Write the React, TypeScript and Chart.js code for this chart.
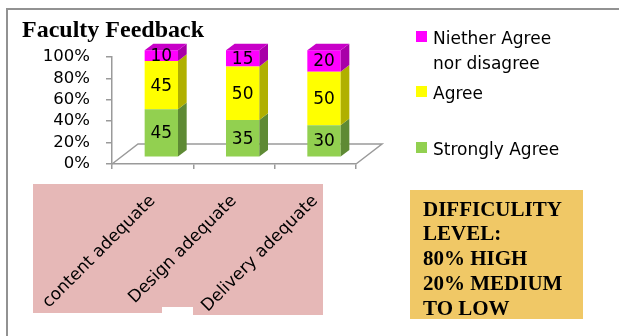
import React, { useEffect, useRef } from 'react';
import { Chart, registerables } from 'chart.js';

Chart.register(...registerables);

// ---------- data ----------
const TITLE = 'Faculty Feedback';
const CATEGORIES = ['content adequate', 'Design adequate', 'Delivery adequate'];
const STRONGLY_AGREE = [45, 35, 30];
const AGREE = [45, 50, 50];
const NEITHER = [10, 15, 20];
const SERIES_LABELS = ['Strongly Agree', 'Agree', 'Niether Agree nor disagree'];
const Y_TICKS = [0, 20, 40, 60, 80, 100];
const NOTE_LINES = ['DIFFICULITY', 'LEVEL:', '80% HIGH', '20% MEDIUM', 'TO LOW'];

// ---------- styles ----------
const FRONT = ['#92D050', '#FFFF00', '#FF00FF'];
const SIDE = ['#5E8A34', '#B0B000', '#A800A8'];
const TOPC = ['#7DB444', '#DADA00', '#C800C8'];
const AXIS_COLOR = '#9A9A9A';
const SANS = '"DejaVu Sans", sans-serif';
const SERIF = '"Liberation Serif", "Times New Roman", serif';
const DEPTH_X = 26;
const DEPTH_Y = 20;
const LEGEND_BASELINES = [44, 99, 155];
const LEGEND_X = 416;
const LEGEND_LINE = 25;

function wrap(ctx: CanvasRenderingContext2D, text: string, maxW: number): string[] {
  const words = text.split(' ');
  const lines: string[] = [];
  let cur = '';
  for (const w of words) {
    const t = cur ? cur + ' ' + w : w;
    if (cur && ctx.measureText(t).width > maxW) {
      lines.push(cur);
      cur = w;
    } else cur = t;
  }
  if (cur) lines.push(cur);
  return lines;
}

const threeD = {
  id: 'threeD',
  beforeDatasetsDraw(chart: any) {
    const { ctx, chartArea: a } = chart;
    ctx.save();
    ctx.strokeStyle = AXIS_COLOR;
    ctx.lineWidth = 1.5;
    ctx.beginPath();
    ctx.moveTo(a.left, a.bottom);
    ctx.lineTo(a.left + DEPTH_X, a.bottom - DEPTH_Y);
    ctx.lineTo(a.right + DEPTH_X, a.bottom - DEPTH_Y);
    ctx.lineTo(a.right, a.bottom);
    ctx.stroke();
    ctx.restore();
    ctx.save();
    ctx.translate(DEPTH_X / 3, -DEPTH_Y / 3);
  },
  afterDatasetsDraw(chart: any) {
    const ctx: CanvasRenderingContext2D = chart.ctx;
    const dx = DEPTH_X / 3;
    const dy = DEPTH_Y / 3;
    const n = chart.data.datasets.length;
    chart.data.datasets.forEach((ds: any, di: number) => {
      const meta = chart.getDatasetMeta(di);
      meta.data.forEach((bar: any, i: number) => {
        const { x, y, base, width } = bar.getProps(['x', 'y', 'base', 'width'], true);
        const l = x - width / 2;
        const r = x + width / 2;
        ctx.fillStyle = SIDE[di];
        ctx.beginPath();
        ctx.moveTo(r, base);
        ctx.lineTo(r, y);
        ctx.lineTo(r + dx, y - dy);
        ctx.lineTo(r + dx, base - dy);
        ctx.closePath();
        ctx.fill();
        if (di === n - 1) {
          ctx.fillStyle = TOPC[di];
          ctx.beginPath();
          ctx.moveTo(l, y);
          ctx.lineTo(l + dx, y - dy);
          ctx.lineTo(r + dx, y - dy);
          ctx.lineTo(r, y);
          ctx.closePath();
          ctx.fill();
        }
        ctx.fillStyle = '#000';
        ctx.font = `17px ${SANS}`;
        ctx.textAlign = 'center';
        ctx.textBaseline = 'middle';
        ctx.fillText(String(ds.data[i]), x, (y + base) / 2 + 1);
      });
    });
    ctx.restore();
  },
  afterDraw(chart: any) {
    const ctx: CanvasRenderingContext2D = chart.ctx;
    ctx.save();
    // title
    ctx.fillStyle = '#000';
    ctx.font = `bold 24px ${SERIF}`;
    ctx.textAlign = 'left';
    ctx.textBaseline = 'alphabetic';
    ctx.fillText(TITLE, 22, 37);
    // legend (reverse order, as stacked)
    ctx.font = `17px ${SANS}`;
    const items = chart.data.datasets.map((d: any, i: number) => ({ label: d.label, color: FRONT[i] })).reverse();
    items.forEach((it: any, k: number) => {
      const b = LEGEND_BASELINES[k];
      ctx.fillStyle = it.color;
      ctx.fillRect(LEGEND_X, b - 13, 11, 11);
      ctx.fillStyle = '#000';
      const lines = wrap(ctx, it.label, 140);
      lines.forEach((ln, j) => ctx.fillText(ln, LEGEND_X + 17, b + j * LEGEND_LINE));
    });
    ctx.restore();
  },
};

export default function App() {
  const ref = useRef<HTMLCanvasElement | null>(null);
  useEffect(() => {
    if (!ref.current) return;
    const series = [STRONGLY_AGREE, AGREE, NEITHER];
    const chart = new Chart(ref.current, {
      type: 'bar',
      data: {
        labels: CATEGORIES,
        datasets: series.map((data, i) => ({
          label: SERIES_LABELS[i],
          data,
          backgroundColor: FRONT[i],
          borderWidth: 0,
          barPercentage: 0.41,
          categoryPercentage: 1,
          clip: false as any,
        })),
      },
      options: {
        responsive: false,
        animation: false,
        devicePixelRatio: 1,
        layout: { padding: { left: 0, top: 57, right: 263, bottom: 0 } },
        plugins: { legend: { display: false }, title: { display: false }, tooltip: { enabled: false } },
        scales: {
          x: {
            stacked: true,
            offset: true,
            grid: { offset: true, drawOnChartArea: false, drawTicks: true, tickLength: 5, color: AXIS_COLOR, lineWidth: 1.5 },
            border: { display: true, color: AXIS_COLOR, width: 1.5 },
            ticks: {
              autoSkip: false,
              minRotation: 45,
              maxRotation: 45,
              padding: 22,
              labelOffset: 0,
              color: '#000',
              font: { family: SANS, size: 17 },
            },
            afterFit: (s: any) => { s.height = 172; },
          },
          y: {
            stacked: true,
            min: 0,
            max: 100,
            grid: { drawOnChartArea: false, drawTicks: true, tickLength: 6, color: AXIS_COLOR, lineWidth: 1.5 },
            border: { display: true, color: AXIS_COLOR, width: 1.5 },
            afterBuildTicks: (s: any) => { s.ticks = Y_TICKS.map((v) => ({ value: v })); },
            ticks: {
              autoSkip: false,
              padding: 16,
              color: '#000',
              font: { family: SANS, size: 16.5 },
              callback: (v: any) => `${v}%`,
            },
            afterFit: (s: any) => { s.width = 112; },
          },
        },
      },
      plugins: [threeD],
    } as any);
    return () => chart.destroy();
  }, []);

  return (
    <div style={{ position: 'fixed', left: 0, top: 0, width: 619, height: 336, background: '#fff', overflow: 'hidden' }}>
      <div style={{ position: 'absolute', left: 6, top: 8, width: 613, height: 328, boxSizing: 'border-box', borderLeft: '2px solid #929292', borderTop: '2px solid #929292' }} />
      <div style={{ position: 'absolute', left: 33, top: 184, width: 290, height: 129, background: '#E6B8B7' }} />
      <div style={{ position: 'absolute', left: 193, top: 313, width: 130, height: 2, background: '#E6B8B7' }} />
      <div style={{ position: 'absolute', left: 162, top: 307, width: 31, height: 6, background: '#fff' }} />
      <canvas ref={ref} width={619} height={336} style={{ position: 'absolute', left: 0, top: 0, width: 619, height: 336 }} />
      <div
        style={{
          position: 'absolute', left: 410, top: 190, width: 173, height: 129, boxSizing: 'border-box',
          background: '#F0C866', padding: '6.5px 0 0 13px', font: `bold 21px ${SERIF}`, lineHeight: '24.8px', color: '#000',
          whiteSpace: 'pre',
        }}
      >
        {NOTE_LINES.map((t, i) => (<div key={i}>{t}</div>))}
      </div>
    </div>
  );
}
